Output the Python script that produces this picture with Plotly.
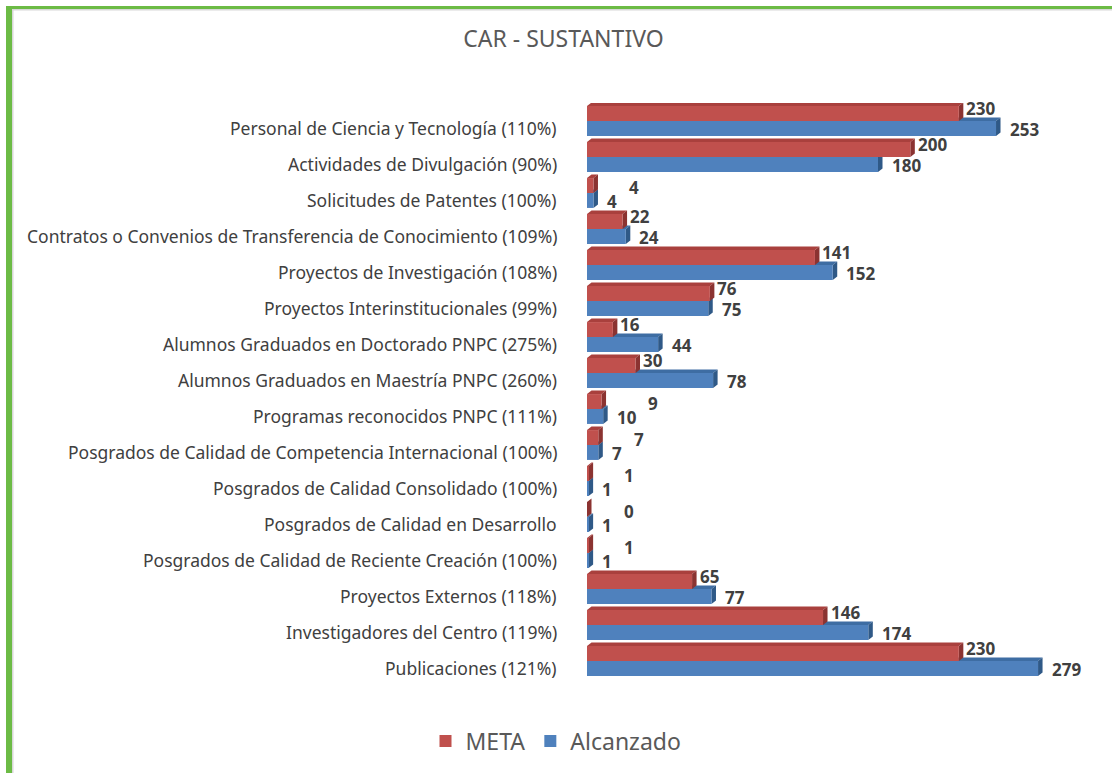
import plotly.graph_objects as go

categories = [
    "Personal de Ciencia y Tecnología (110%)",
    "Actividades de Divulgación (90%)",
    "Solicitudes de Patentes (100%)",
    "Contratos o Convenios de Transferencia de Conocimiento (109%)",
    "Proyectos de Investigación (108%)",
    "Proyectos Interinstitucionales (99%)",
    "Alumnos Graduados en Doctorado PNPC (275%)",
    "Alumnos Graduados en Maestría PNPC (260%)",
    "Programas reconocidos PNPC (111%)",
    "Posgrados de Calidad de Competencia Internacional (100%)",
    "Posgrados de Calidad Consolidado (100%)",
    "Posgrados de Calidad en Desarrollo",
    "Posgrados de Calidad de Reciente Creación (100%)",
    "Proyectos Externos (118%)",
    "Investigadores del Centro (119%)",
    "Publicaciones (121%)",
]
meta = [230, 200, 4, 22, 141, 76, 16, 30, 9, 7, 1, 0, 1, 65, 146, 230]
alcanzado = [253, 180, 4, 24, 152, 75, 44, 78, 10, 7, 1, 1, 1, 77, 174, 279]

W, H = 1112, 773
ML, MR, MT, MB = 587, 40, 103, 94
XMAX = 300
pw = W - ML - MR
ph = H - MT - MB
n = len(categories)
BARGAP = 0.17
half = (1 - BARGAP) / 2
ppu = pw / XMAX  # pixels per data unit

RED, RED_TOP, RED_SIDE = "#C0504D", "#A9403D", "#8B3331"
BLUE, BLUE_TOP, BLUE_SIDE = "#4F81BD", "#3E6DA3", "#2F5987"

DEPTH_X_PX, DEPTH_Y_PX = 4.5, 3.5
dxu = DEPTH_X_PX / ppu
dyu = DEPTH_Y_PX * n / ph

pos = list(range(n))

fig = go.Figure()
fig.add_trace(go.Bar(y=pos, x=meta, orientation="h", name="META",
                     marker=dict(color=RED, line=dict(width=0))))
fig.add_trace(go.Bar(y=pos, x=alcanzado, orientation="h", name="Alcanzado",
                     marker=dict(color=BLUE, line=dict(width=0))))

def poly(pts):
    return "M " + " L ".join(f"{x},{y}" for x, y in pts) + " Z"

shapes = []
for i in pos:
    for v, ytop, top_c, side_c in ((alcanzado[i], i, BLUE_TOP, BLUE_SIDE),
                                   (meta[i], i - half, RED_TOP, RED_SIDE)):
        ybot = ytop + half
        shapes.append(dict(type="path", xref="x", yref="y", layer="below",
                           path=poly([(0, ytop), (v, ytop), (v + dxu, ytop - dyu), (dxu, ytop - dyu)]),
                           fillcolor=top_c, line=dict(width=0)))
        shapes.append(dict(type="path", xref="x", yref="y", layer="below",
                           path=poly([(v, ytop), (v + dxu, ytop - dyu), (v + dxu, ybot - dyu), (v, ybot)]),
                           fillcolor=side_c, line=dict(width=0)))

def px_x(p):
    return (p - ML) / pw

def px_y(p):
    return (H - MB - p) / ph

GREEN = "#6CBB45"
shapes += [
    dict(type="rect", xref="paper", yref="paper", x0=px_x(12), x1=px_x(13.5),
         y0=px_y(773), y1=px_y(9), fillcolor="#D8D8D8", line=dict(width=0), layer="below"),
    dict(type="rect", xref="paper", yref="paper", x0=px_x(12), x1=px_x(1112),
         y0=px_y(10.5), y1=px_y(9), fillcolor="#D8D8D8", line=dict(width=0), layer="below"),
    dict(type="rect", xref="paper", yref="paper", x0=px_x(6), x1=px_x(12),
         y0=px_y(773), y1=px_y(6), fillcolor=GREEN, line=dict(width=0), layer="below"),
    dict(type="rect", xref="paper", yref="paper", x0=px_x(6), x1=px_x(1112),
         y0=px_y(9), y1=px_y(6), fillcolor=GREEN, line=dict(width=0), layer="below"),
]

annotations = []
LABEL_FONT = dict(family="Noto Sans", size=17.5, color="#404040")
VAL_SIZE = 17
VAL_FONT = dict(family="Noto Sans", size=VAL_SIZE, color="#404040", weight="bold")
DIGIT_W = 0.575 * VAL_SIZE
BLUE_GAP = DEPTH_X_PX + 7
RED_GAP = DEPTH_X_PX + 1
for i, c in enumerate(categories):
    annotations.append(dict(text=c, xref="paper", x=0, yref="y", y=i, xanchor="right",
                            yanchor="middle", xshift=-28, yshift=-7, showarrow=False, font=LABEL_FONT))
    # blue label
    annotations.append(dict(text=str(alcanzado[i]), xref="x", x=alcanzado[i], yref="y", y=i + half / 2,
                            xanchor="left", yanchor="middle", xshift=BLUE_GAP, yshift=-1,
                            showarrow=False, font=VAL_FONT))
    # red label: for tiny bars, place it beyond the blue label (as in the source chart)
    red_shift, red_y = RED_GAP, 5
    if max(meta[i], alcanzado[i]) < 15:
        blue_end_px = alcanzado[i] * ppu + BLUE_GAP + DIGIT_W * len(str(alcanzado[i]))
        red_shift = blue_end_px + 12 - meta[i] * ppu
        red_y = -2
    annotations.append(dict(text=str(meta[i]), xref="x", x=meta[i], yref="y", y=i - half / 2,
                            xanchor="left", yanchor="middle", xshift=red_shift, yshift=red_y,
                            showarrow=False, font=VAL_FONT))

fig.update_layout(
    width=W, height=H,
    margin=dict(l=ML, r=MR, t=MT, b=MB),
    paper_bgcolor="white", plot_bgcolor="rgba(0,0,0,0)",
    barmode="group", bargap=BARGAP, bargroupgap=0.0,
    title=dict(text="CAR - SUSTANTIVO", x=563.5 / W, xanchor="center", xref="container",
               y=1 - 39 / H, yanchor="middle",
               font=dict(family="Noto Sans", size=23, color="#595959")),
    xaxis=dict(range=[0, XMAX], showgrid=False, showticklabels=False, zeroline=False,
               showline=False, ticks=""),
    yaxis=dict(range=[n - 0.5, -0.5], showgrid=False, showline=False, ticks="",
               showticklabels=False, zeroline=False),
    legend=dict(orientation="h", x=0.5, xref="container", xanchor="center",
                y=1 - 741 / H, yref="container", yanchor="middle",
                font=dict(family="Noto Sans", size=23, color="#595959"), traceorder="normal",
                itemwidth=30),
    shapes=shapes,
    annotations=annotations,
    showlegend=True,
)

fig.write_html("out.html", config={"displayModeBar": False},
               post_script="document.body.style.margin='0';document.body.style.overflow='hidden';")
